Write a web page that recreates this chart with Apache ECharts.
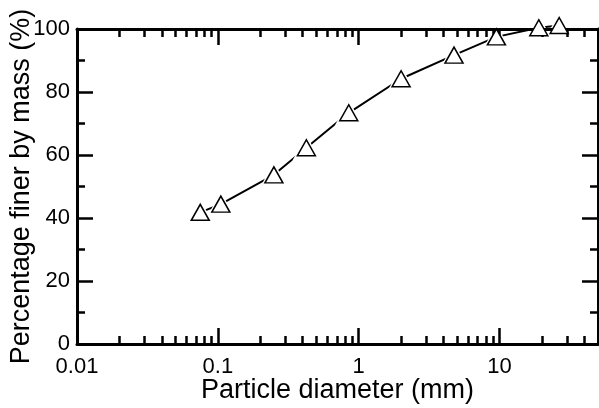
<html>
<head>
    <meta http-equiv='Content-Type' content='text/html; charset=utf-8'/>
    <title>Particle size distribution</title>
    <style>
        body { margin: 0; padding: 0; background: #fff; }
        #main { width: 599px; height: 408px; }
    </style>
    <script src="https://cdn.jsdelivr.net/npm/echarts@6/dist/echarts.min.js"></script>
</head>
<body>
<div id="main"></div>
<script type="text/javascript">
    // sieve sizes (mm) and percentage passing
    const diameters = [0.075, 0.105, 0.25, 0.425, 0.85, 2, 4.75, 9.5, 19, 26.5];
    const finer = [41.8, 44.4, 53.7, 62.3, 73.4, 84.2, 91.7, 97.5, 100.4, 101.1];

    const majorTicks = [0.01, 0.1, 1, 10];
    const minorTicks = [0.02, 0.03, 0.04, 0.05, 0.06, 0.07, 0.08, 0.09,
        0.2, 0.3, 0.4, 0.5, 0.6, 0.7, 0.8, 0.9,
        2, 3, 4, 5, 6, 7, 8, 9, 20, 30, 40];
    const tickLabels = ['0.01', '0.1', '1', '10'];

    const font = 'Liberation Sans, Arial, sans-serif';
    const pts = diameters.map((d, i) => [d, finer[i]]);

    let myChart = echarts.init(document.getElementById('main'));

    function logAxis(pos, ticks, len, showLine, extra) {
        return Object.assign({
            type: 'log',
            logBase: 10,
            position: pos,
            min: 0.01,
            max: 50,
            splitLine: {show: false},
            axisLine: {show: showLine, onZero: false, lineStyle: {color: '#000', width: 3}},
            axisTick: {show: true, inside: true, length: len, customValues: ticks,
                lineStyle: {color: '#000', width: 2.5}},
            axisLabel: {show: false}
        }, extra || {});
    }

    function valAxis(pos, extra) {
        return Object.assign({
            type: 'value',
            position: pos,
            min: 0,
            max: 100,
            interval: 20,
            splitLine: {show: false},
            axisLine: {show: true, onZero: false, lineStyle: {color: '#000', width: 3}},
            axisTick: {show: true, inside: true, length: 16, lineStyle: {color: '#000', width: 2.5}},
            minorTick: {show: true, splitNumber: 2, length: 8, lineStyle: {color: '#000', width: 2.5}},
            axisLabel: {show: false}
        }, extra || {});
    }

    let option = {
        animation: false,
        grid: [
            {left: 77, right: 1, top: 29, bottom: 64, containLabel: false, outerBoundsMode: 'none'},
            {left: 77, right: 1, top: 29, bottom: 64, containLabel: false, outerBoundsMode: 'none'}
        ],
        xAxis: [
            logAxis('bottom', majorTicks, 16, true, {
                gridIndex: 0,
                name: 'Particle diameter (mm)',
                nameLocation: 'middle',
                nameGap: 33,
                nameMoveOverlap: false,
                nameTextStyle: {fontFamily: font, fontSize: 27, color: '#000'},
                axisLabel: {show: true, customValues: majorTicks, margin: 12,
                    fontFamily: font, fontSize: 22, color: '#000',
                    formatter: v => tickLabels[majorTicks.indexOf(+v)] || ''}
            }),
            logAxis('top', majorTicks, 16, true, {gridIndex: 0, z: 4}),
            logAxis('bottom', minorTicks, 8, false, {gridIndex: 1}),
            logAxis('top', minorTicks, 8, false, {gridIndex: 1, z: 4})
        ],
        yAxis: [
            valAxis('left', {
                gridIndex: 0,
                name: 'Percentage finer by mass (%)',
                nameLocation: 'middle',
                nameGap: 42,
                nameMoveOverlap: false,
                nameTextStyle: {fontFamily: font, fontSize: 27, color: '#000'},
                axisLabel: {show: true, margin: 7, padding: [0, 0, 5, 0],
                    fontFamily: font, fontSize: 22, color: '#000'}
            }),
            valAxis('right', {gridIndex: 0, z: 4}),
            {type: 'value', gridIndex: 1, min: 0, max: 100, show: false}
        ],
        series: [
            {
                type: 'line',
                data: pts,
                xAxisIndex: 0,
                yAxisIndex: 0,
                symbol: 'none',
                clip: false,
                lineStyle: {color: '#000', width: 2},
                z: 2
            },
            {
                // white halo so the line stops short of each marker
                type: 'scatter',
                data: pts,
                xAxisIndex: 0,
                yAxisIndex: 0,
                symbol: 'triangle',
                symbolSize: [28, 26],
                clip: false,
                itemStyle: {color: '#fff', opacity: 1},
                z: 3
            },
            {
                type: 'scatter',
                data: pts,
                xAxisIndex: 0,
                yAxisIndex: 0,
                symbol: 'triangle',
                symbolSize: [18, 16],
                clip: false,
                itemStyle: {color: '#fff', borderColor: '#000', borderWidth: 1.5, opacity: 1},
                z: 5
            }
        ]
    };

    myChart.setOption(option);
</script>
</body>
</html>
